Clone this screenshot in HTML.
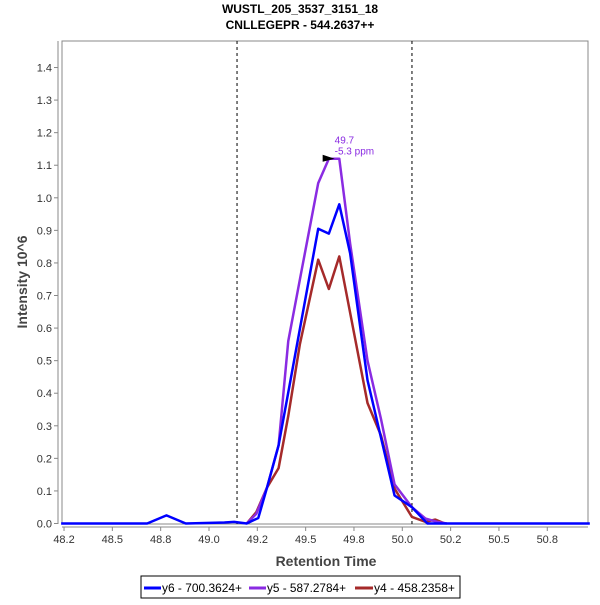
<!DOCTYPE html>
<html><head><meta charset="utf-8"><style>
body{margin:0;background:#fff;width:600px;height:600px;overflow:hidden;font-family:"Liberation Sans",sans-serif}
</style></head><body>
<svg id="chart" width="600" height="600" xmlns="http://www.w3.org/2000/svg">
<text x="300" y="13" text-anchor="middle" font-size="12" font-weight="bold">WUSTL_205_3537_3151_18</text>
<text x="300" y="29" text-anchor="middle" font-size="12" font-weight="bold">CNLLEGEPR - 544.2637++</text>
<rect x="62" y="41" width="526" height="483" fill="#fff" stroke="#888"/>
<line x1="58" y1="41" x2="58" y2="524" stroke="#888"/>
<line x1="62" y1="527" x2="588" y2="527" stroke="#888"/>
<g id="yticks"></g><g id="xticks"></g><g id="series"></g>
<text x="326" y="566" text-anchor="middle" font-size="14" font-weight="bold" fill="#444">Retention Time</text>
<text transform="translate(27,282) rotate(-90)" text-anchor="middle" font-size="14" font-weight="bold" fill="#444">Intensity 10^6</text>
<g>
<rect x="141" y="576" width="319" height="22" fill="#fff" stroke="#000"/>
<g><line x1="144" y1="588" x2="161" y2="588" stroke="#0000ff" stroke-width="3"/><text x="162" y="592" font-size="12" textLength="80" lengthAdjust="spacingAndGlyphs">y6 - 700.3624+</text></g>
<g><line x1="249" y1="588" x2="266" y2="588" stroke="#8a2be2" stroke-width="3"/><text x="267" y="592" font-size="12" textLength="79" lengthAdjust="spacingAndGlyphs">y5 - 587.2784+</text></g>
<g><line x1="355" y1="588" x2="373" y2="588" stroke="#a52a2a" stroke-width="3"/><text x="374" y="592" font-size="12" textLength="81" lengthAdjust="spacingAndGlyphs">y4 - 458.2358+</text></g>
</g>
</svg>
<script>
const yTicks=[0,0.1,0.2,0.3,0.4,0.5,0.6,0.7,0.8,0.9,1.0,1.1,1.2,1.3,1.4];
const xTicks=[48.25,48.5,48.75,49,49.25,49.5,49.75,50,50.25,50.5,50.75];
const xTickLabels=["48.2","48.5","48.8","49.0","49.2","49.5","49.8","50.0","50.2","50.5","50.8"];
const boundaries=[49.145,50.05];
const y6Times=[48.235,48.68,48.78,48.88,49.08,49.13,49.195,49.255,49.30,49.36,49.565,49.62,49.674,49.73,49.82,49.96,50.05,50.13,50.97];
const y6Values=[0,0,0.025,0,0.003,0.005,0,0.017,0.11,0.24,0.905,0.89,0.98,0.83,0.44,0.086,0.05,0,0];
const y5Times=[49.195,49.245,49.30,49.36,49.41,49.48,49.565,49.62,49.674,49.73,49.82,49.89,49.96,50.05,50.12,50.18,50.23];
const y5Values=[0,0.03,0.11,0.24,0.56,0.78,1.045,1.12,1.12,0.86,0.50,0.32,0.12,0.05,0.015,0.005,0];
const y4Times=[49.195,49.245,49.30,49.36,49.41,49.47,49.565,49.62,49.674,49.82,49.89,49.96,50.05,50.12,50.17,50.22];
const y4Values=[0,0.035,0.11,0.17,0.33,0.55,0.81,0.72,0.82,0.37,0.27,0.107,0.02,0.005,0.012,0];
const peakTime=49.65, peakValue=1.12, peakLabel1="49.7", peakLabel2="-5.3 ppm";
const NS="http://www.w3.org/2000/svg";
const X=v=>209+(v-49)*193.3;
const Y=v=>523.5-v*325.7;
function mk(tag,attrs,parent){const e=document.createElementNS(NS,tag);for(const k in attrs)e.setAttribute(k,attrs[k]);parent.appendChild(e);return e;}
const yg=document.getElementById('yticks'),xg=document.getElementById('xticks'),sg=document.getElementById('series');
yTicks.forEach(v=>{
 const l=mk('line',{x1:54,x2:58,y1:Y(v),y2:Y(v),stroke:'#888'},yg);
 
 
 const t=mk('text',{x:52,y:Y(v)+4,'text-anchor':'end','font-size':11,fill:'#333'},yg);
 
 
 t.textContent=v.toFixed(1);
});
xTicks.forEach((v,i)=>{
 const l=mk('line',{x1:X(v),x2:X(v),y1:527,y2:531,stroke:'#888'},xg);
 
 
 const t=mk('text',{x:X(v),y:543,'text-anchor':'middle','font-size':11,fill:'#333'},xg);
 
 
 t.textContent=xTickLabels[i];
});
boundaries.forEach(v=>{
 const l=mk('line',{x1:X(v),x2:X(v),y1:41,y2:524,stroke:'#000','stroke-dasharray':'3,3'},sg);
 
 
});
function series(ts,vs,color,name){
 const p=mk('polyline',{points:ts.map((t,i)=>X(t)+','+Y(vs[i])).join(' '),fill:'none',stroke:color,'stroke-width':2.5,'stroke-linejoin':'round'},sg);
 
 
}
series(y4Times,y4Values,'#a52a2a','series-y4');
series(y5Times,y5Values,'#8a2be2','series-y5');
series(y6Times,y6Values,'#0000ff','series-y6');
const px=X(peakTime),py=Y(peakValue);
const tri=mk('polygon',{points:`${px-12},${py-4} ${px-12},${py+3} ${px},${py}`,fill:'#000'},sg);


const a1=mk('text',{x:px,y:py-15,'font-size':10,fill:'#8a2be2'},sg);


a1.textContent=peakLabel1;
const a2=mk('text',{x:px,y:py-4,'font-size':10,fill:'#8a2be2'},sg);


a2.textContent=peakLabel2;
</script>
</body></html>
